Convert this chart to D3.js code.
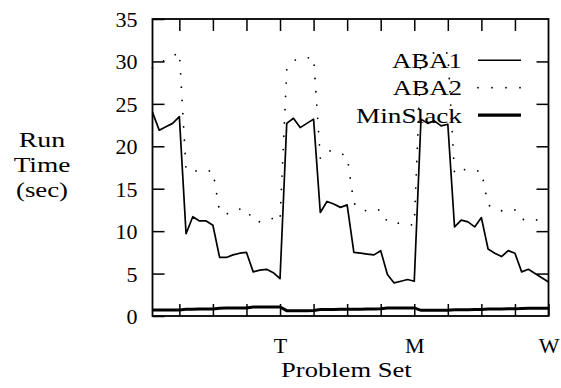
<!DOCTYPE html>
<html>
<head>
<meta charset="utf-8">
<script src="https://cdn.jsdelivr.net/npm/d3@7"></script>
</head>
<body style="margin:0">
<svg id="chart" width="561" height="388"></svg>
<script>
// ---- data ----
const problemIndex = d3.range(1, 61);
const aba1 = [
  24.0, 21.9, 22.3, 22.7, 23.5, 9.7, 11.7, 11.2, 11.2, 10.7,
  6.9, 6.9, 7.2, 7.4, 7.5, 5.2, 5.4, 5.5, 5.1, 4.4,
  22.7, 23.3, 22.2, 22.7, 23.2, 12.2, 13.5, 13.2, 12.8, 13.1,
  7.5, 7.4, 7.3, 7.2, 7.7, 4.9, 3.9, 4.1, 4.3, 4.1,
  23.2, 22.7, 23.0, 22.4, 22.6, 10.5, 11.3, 11.1, 10.5, 11.6,
  7.9, 7.4, 7.0, 7.7, 7.4, 5.2, 5.5, 5.0, 4.5, 4.0
];
const aba2 = [
  29.2, 29.8, 30.2, 30.6, 31.1, 17.2, 17.1, 17.1, 17.1, 17.1,
  12.3, 12.0, 12.4, 12.6, 12.6, 11.2, 11.1, 11.4, 11.5, 11.2,
  29.0, 30.1, 30.3, 30.4, 30.5, 18.6, 19.5, 19.4, 19.2, 18.8,
  13.3, 12.5, 12.4, 12.5, 12.5, 11.1, 11.0, 10.9, 10.8, 10.7,
  30.8, 31.0, 31.0, 31.0, 31.0, 16.8, 17.3, 17.2, 17.1, 17.1,
  13.1, 12.6, 12.4, 12.5, 12.5, 11.4, 11.3, 11.3, 11.4, 11.4
];
const minSlack = [
  0.70, 0.70, 0.71, 0.71, 0.72, 0.80, 0.80, 0.82, 0.82, 0.83,
  0.92, 0.93, 0.93, 0.94, 0.95, 1.05, 1.06, 1.06, 1.07, 1.07,
  0.63, 0.63, 0.63, 0.63, 0.64, 0.76, 0.77, 0.78, 0.79, 0.80,
  0.80, 0.81, 0.82, 0.83, 0.85, 0.93, 0.94, 0.94, 0.95, 0.95,
  0.67, 0.67, 0.67, 0.68, 0.68, 0.74, 0.75, 0.75, 0.76, 0.76,
  0.82, 0.83, 0.83, 0.84, 0.84, 0.89, 0.90, 0.90, 0.91, 0.91
];
const yTicks = [0, 5, 10, 15, 20, 25, 30, 35];
const xTicks = [5, 10, 15, 20, 25, 30, 35, 40, 45, 50, 55, 60];
const xTickLabels = { 20: "T", 40: "M", 60: "W" };
const seriesNames = ["ABA1", "ABA2", "MinSlack"];
const yTitle = ["Run", "Time", "(sec)"];
const xTitle = "Problem Set";

// ---- layout ----
const L = 152.5, R = 548.5, T = 19, B = 316;
const FONT = '"Liberation Serif"';
const FS = "22px";
const svg = d3.select("#chart");
const serifText = sel => sel.attr("font-family", "Liberation Serif").attr("font-size", 22)
  .style("font-family", FONT).style("font-size", FS);

const x = d3.scaleLinear().domain([1, 60]).range([L, R]);
const y = d3.scaleLinear().domain([0, 35]).range([B, T]);

// axes (inward ticks, gnuplot style)
const gl = svg.append("g").attr("transform", `translate(${L},0)`)
  .call(d3.axisLeft(y).tickValues(yTicks).tickSize(-12).tickPadding(15));
const gr = svg.append("g").attr("transform", `translate(${R},0)`)
  .call(d3.axisRight(y).tickValues(yTicks.slice(1, -1)).tickSize(-12).tickFormat(""));
const gb = svg.append("g").attr("transform", `translate(0,${B})`)
  .call(d3.axisBottom(x).tickValues(xTicks).tickSize(-12).tickPadding(21.5)
    .tickFormat(d => xTickLabels[d] || ""));
const gt = svg.append("g").attr("transform", `translate(0,${T})`)
  .call(d3.axisTop(x).tickValues(xTicks.slice(0, -1)).tickSize(-12).tickFormat(""));

[gl, gr, gb, gt].forEach(g => {
  g.attr("font-family", "Liberation Serif").attr("font-size", 22);
  g.select(".domain").remove();
  g.selectAll(".tick line").attr("stroke", "#000").attr("stroke-width", 1.5);
  g.selectAll("text").call(serifText).attr("fill", "#000");
});
gl.selectAll("text").attr("dy", "0.34em");
gb.selectAll("text").attr("dy", "0.72em");

// lines
const line = vals => d3.line().x((d, i) => x(problemIndex[i])).y(d => y(d))(vals);

svg.append("path").attr("d", line(aba2)).attr("fill", "none")
  .attr("stroke", "#000").attr("stroke-width", 1.8)
  .attr("stroke-linecap", "round").attr("stroke-dasharray", "0,13.3");
svg.append("path").attr("d", line(aba1)).attr("fill", "none")
  .attr("stroke", "#000").attr("stroke-width", 1.7).attr("stroke-linejoin", "round");
svg.append("path").attr("d", line(minSlack)).attr("fill", "none")
  .attr("stroke", "#000").attr("stroke-width", 3);

// frame
svg.append("rect").attr("x", L).attr("y", T).attr("width", R - L).attr("height", B - T)
  .attr("fill", "none").attr("stroke", "#000").attr("stroke-width", 1.8);

// legend
const legY = [67.7, 95.2, 122.7];
const legW = [70, 69.3, 106];
const legStyles = [
  { w: 1.6, dash: null, cap: "butt" },
  { w: 1.8, dash: "0,14", cap: "round" },
  { w: 3.2, dash: null, cap: "butt" }
];
seriesNames.forEach((name, i) => {
  svg.append("text").attr("x", 462 - legW[i]).attr("y", legY[i])
    .attr("textLength", legW[i]).attr("lengthAdjust", "spacingAndGlyphs")
    .call(serifText).text(name);
  svg.append("line").attr("x1", 478).attr("x2", 521)
    .attr("y1", legY[i] - 7.5).attr("y2", legY[i] - 7.5)
    .attr("stroke", "#000").attr("stroke-width", legStyles[i].w)
    .attr("stroke-linecap", legStyles[i].cap)
    .attr("stroke-dasharray", legStyles[i].dash);
});

// titles
const yTitleW = [46.7, 56.7, 52];
yTitle.forEach((t, i) => {
  svg.append("text").attr("x", 42 - yTitleW[i] / 2).attr("y", 146.7 + i * 25.3)
    .attr("textLength", yTitleW[i]).attr("lengthAdjust", "spacingAndGlyphs")
    .call(serifText).text(t);
});
svg.append("text").attr("x", 281).attr("y", 376.7)
  .attr("textLength", 130.7).attr("lengthAdjust", "spacingAndGlyphs")
  .call(serifText).text(xTitle);
</script>
</body>
</html>
